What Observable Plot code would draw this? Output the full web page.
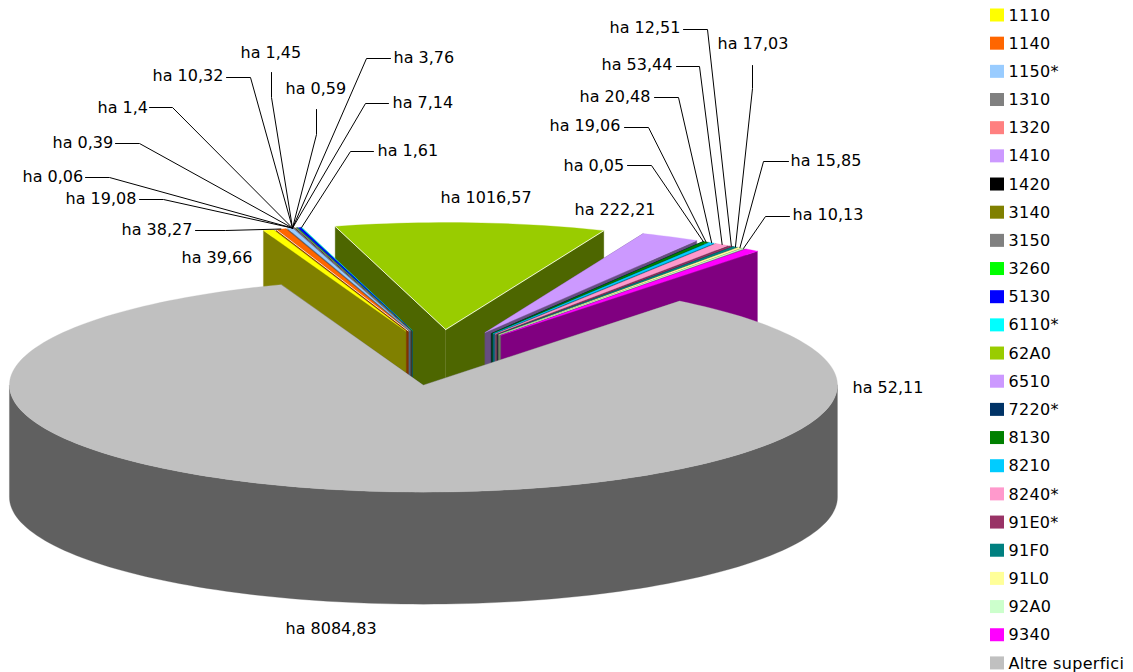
<!DOCTYPE html>
<html><head><meta charset="utf-8">
<style>html,body{margin:0;padding:0;background:#fff}svg{display:block}svg > g:last-of-type text{letter-spacing:.3px}</style>
<script src="https://cdn.jsdelivr.net/npm/d3@7"></script>
<script src="https://cdn.jsdelivr.net/npm/@observablehq/plot@0.6"></script>
</head><body><div id="chart"></div>
<script>
const codes = ["1110","1140","1150*","1310","1320","1410","1420","3140","3150","3260","5130","6110*","62A0","6510","7220*","8130","8210","8240*","91E0*","91F0","91L0","92A0","9340","Altre superfici"];
const values = [39.66,38.27,19.08,0.06,0.39,1.4,0.59,1.45,7.14,1.61,10.32,3.76,1016.57,222.21,0.05,19.06,20.48,53.44,12.51,17.03,15.85,10.13,52.11,8084.83];
const colors = ["#FFFF00","#FF6600","#99CCFF","#808080","#FF8080","#CC99FF","#000000","#808000","#808080","#00FF00","#0000FF","#00FFFF","#99CC00","#CC99FF","#003366","#008000","#00CCFF","#FF99CC","#993366","#008080","#FFFF99","#CCFFCC","#FF00FF","#C0C0C0"];
const labelX = [181,121,65,22,52,97,285,240,392,377,152,393,440,574,563,549,579,601,609,717,790,792,852,285];
const labelY = [257,229,198,176,142,107,88,52,102,150,75,57,197,209,165,125,96,64,27,43,160,214,387,628];
// leader lines: start and elbow, in picture units (null = no leader)
const leaderStart = [null,[195,230],[139,199],[85,177],[115,143],[149,107],[316,109],[271,72],[388,103],[373,151],[226,77],[390,58],null,null,[627,165],[624,127],[654,97],[676,66],[683,29],[752,65],[788,161],[789,216],null,null];
const leaderElbow = [null,[225,230],[163,199],[109,177],[139,143],[172,107],[316,134],[271,97],[365,103],[350,151],[250,77],[366,58],null,null,[651,165],[648,127],[678,97],[699,66],[707,29],[752,88],[763,161],[765,216],null,null];

const W = 1133, H = 672;
const cx = 439, cy = 357, rx = 414, ry = 107, depth = 112, kx = 102, ky = 28;
const rad = Math.PI / 180, startAngle = -20.1 * rad;
const slices = d3.pie().sort(null).startAngle(startAngle).endAngle(startAngle + 2 * Math.PI)(values);

function geom(i) {
  const s = slices[i], mid = (s.startAngle + s.endAngle) / 2;
  const ox = cx + kx * Math.sin(mid), oy = cy - ky * Math.cos(mid);
  const rim = a => [ox + rx * Math.sin(a), oy - ry * Math.cos(a)];
  return {s, mid, ox, oy, rim};
}
function arcPts(g, a0, a1) {
  const n = Math.max(1, Math.ceil((a1 - a0) / (1.5 * rad)));
  return d3.range(n + 1).map(k => g.rim(a0 + (a1 - a0) * k / n));
}
const polys = [];
let pid = 0;
function addPoly(pts, color) { const id = pid++; pts.forEach(p => polys.push({x: p[0], y: p[1], id, color})); }
const dark = c => { const r = d3.rgb(c); return d3.rgb(r.r * .5, r.g * .5, r.b * .5).formatHex(); };
const down = p => [p[0], p[1] + depth];

// back to front: the further a slice's middle is from the top of the pie, the later it is painted
const order = d3.range(values.length).sort((a, b) => {
  const f = i => { const m = geom(i).mid; return Math.abs(Math.atan2(Math.sin(m), Math.cos(m))); };
  return f(a) - f(b);
});
for (const i of order) {
  const g = geom(i), {s} = g, c = colors[i], w = dark(c);
  const apex = [g.ox, g.oy], p0 = g.rim(s.startAngle), p1 = g.rim(s.endAngle);
  addPoly([apex, p1, down(p1), down(apex)], w);
  addPoly([apex, p0, down(p0), down(apex)], w);
  const a0 = Math.max(s.startAngle, 90 * rad), a1 = Math.min(s.endAngle, 270 * rad);
  if (a1 > a0) { const top = arcPts(g, a0, a1); addPoly([...top, ...top.map(down).reverse()], w); }
  addPoly([apex, ...arcPts(g, s.startAngle, s.endAngle)], c);
}
// pale highlight along some top edges
const hi = [];
[[12, "startAngle"], [12, "endAngle"], [1, "startAngle"]].forEach(([i, k], e) => {
  const g = geom(i), p = g.rim(g.s[k]);
  hi.push({x: g.ox, y: g.oy, e}, {x: p[0], y: p[1], e});
});

const tipOf = i => {
  if (i === 9) { const g = geom(11); return g.rim(g.s.endAngle); }
  if (i >= 2 && i <= 11) { const g = geom(2); return g.rim(g.s.endAngle); }
  const g = geom(i); return g.rim(g.mid);
};
const leaders = [];
leaderStart.forEach((st, i) => {
  if (!st) return;
  [st, leaderElbow[i], tipOf(i)].forEach(p => leaders.push({x: p[0], y: p[1], i}));
});
const labels = values.map((v, i) => ({text: "ha " + String(v).replace(".", ","), x: labelX[i], y: labelY[i]}));
const legendTop = 15, legendStep = 28.17;
const legend = codes.map((c, i) => ({c, color: colors[i], y: legendTop + legendStep * i}));

const plot = Plot.plot({
  width: W, height: H, margin: 0,
  x: {domain: [0, W], range: [0, W], axis: null},
  y: {domain: [0, H], range: [0, H], axis: null},
  color: {type: "identity"},
  style: {fontFamily: "'DejaVu Sans', sans-serif", fontSize: "16px", background: "#fff"},
  marks: [
    Plot.line(polys, {x: "x", y: "y", z: "id", fill: "color", stroke: "color", strokeWidth: 0.3, curve: "linear-closed"}),
    Plot.line(hi, {x: "x", y: "y", z: "e", stroke: "#fff", strokeWidth: 0.8}),
    Plot.line(leaders, {x: "x", y: "y", z: "i", stroke: "#000", strokeWidth: 1}),
    Plot.text(labels, {x: "x", y: "y", text: "text", textAnchor: "start", fill: "#000", fontSize: 16}),
    Plot.rect(legend, {x1: 990, x2: 1004, y1: d => d.y - 6.5, y2: d => d.y + 6.5, fill: "color"}),
    Plot.text(legend, {x: 1008, y: "y", text: "c", textAnchor: "start", fill: "#000", fontSize: 16})
  ]
});
document.getElementById("chart").appendChild(plot);
</script></body></html>
